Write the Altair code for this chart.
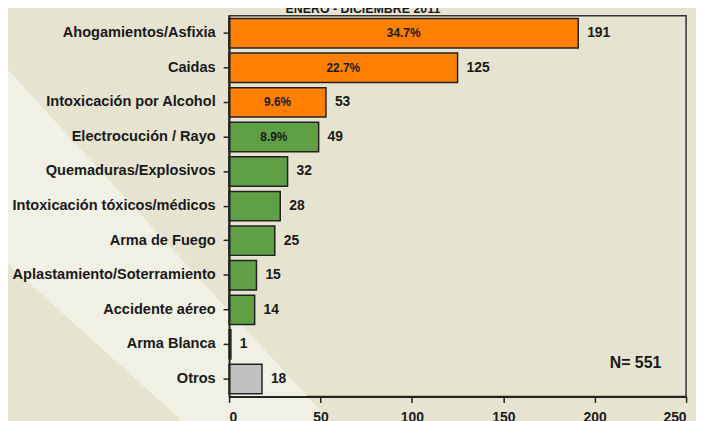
import altair as alt
import pandas as pd

categorias = ["Ahogamientos/Asfixia", "Caidas", "Intoxicación por Alcohol",
              "Electrocución / Rayo", "Quemaduras/Explosivos",
              "Intoxicación tóxicos/médicos", "Arma de Fuego",
              "Aplastamiento/Soterramiento", "Accidente aéreo", "Arma Blanca", "Otros"]
casos = [191, 125, 53, 49, 32, 28, 25, 15, 14, 1, 18]
grupos = ["A", "A", "A", "B", "B", "B", "B", "B", "B", "B", "C"]
porcentajes = ["34.7%", "22.7%", "9.6%", "8.9%", "", "", "", "", "", "", ""]
ticks_x = [0, 50, 100, 150, 200, 250]
titulo = "ENERO - DICIEMBRE 2011"
total_label = "N= 551"

df = pd.DataFrame({"cat": categorias, "casos": casos, "grupo": grupos, "pct": porcentajes})

FONT = "Liberation Sans"
BG = "#E6E4D1"
LIGHT = "#F0F0E5"
DARK = "#222222"
TXT = "#1a1a1a"

y_enc = alt.Y("cat:N", sort=categorias,
              scale=alt.Scale(paddingInner=0.15, paddingOuter=0.08),
              axis=alt.Axis(title=None, labelFontSize=14.7, labelFontWeight="bold",
                            labelColor=TXT, labelPadding=8, tickSize=6,
                            tickWidth=1.5, tickColor=DARK, domainColor=DARK,
                            domainWidth=2, labelLimit=400, zindex=1))
x_enc = alt.X("casos:Q", scale=alt.Scale(domain=[0, 250], nice=False),
              axis=alt.Axis(title=None, values=ticks_x, labelFontSize=14,
                            labelFontWeight="bold", labelColor=TXT,
                            labelPadding=8, tickSize=6, tickWidth=1.5,
                            tickColor=DARK, domainColor=DARK, domainWidth=2,
                            grid=False, zindex=1))

# decorative light diagonal band of the background (two overlapping strokes)
deco_df = pd.DataFrame({"d": [0]})
deco_a = alt.Chart(deco_df).mark_rule(strokeWidth=100, color=LIGHT, strokeCap="butt").encode(
    x=alt.value(-531), y=alt.value(-207), x2=alt.value(269), y2=alt.value(665))
deco_b = alt.Chart(deco_df).mark_rule(strokeWidth=100, color=LIGHT, strokeCap="butt").encode(
    x=alt.value(-531), y=alt.value(-94), x2=alt.value(269), y2=alt.value(626))

base = alt.Chart(df)

bars = base.mark_bar(stroke=DARK, strokeWidth=1.5).encode(
    y=y_enc, x=x_enc,
    color=alt.Color("grupo:N", scale=alt.Scale(domain=["A", "B", "C"],
                    range=["#FF8000", "#60A045", "#C0C0C0"]), legend=None),
)

vals = base.mark_text(align="left", dx=9, fontSize=14, fontWeight="bold",
                      color=TXT, font=FONT).encode(
    y=alt.Y("cat:N", sort=categorias), x="casos:Q", text="casos:Q")

pcts = base.transform_calculate(mid="datum.casos / 2").mark_text(
    align="center", fontSize=12, fontWeight="bold", color=TXT, font=FONT
).encode(y=alt.Y("cat:N", sort=categorias), x="mid:Q", text="pct:N")

ntext = alt.Chart(pd.DataFrame({"t": [total_label]})).mark_text(
    align="center", baseline="middle", fontSize=16, fontWeight="bold",
    color=TXT, font=FONT
).encode(x=alt.value(410), y=alt.value(350), text="t:N")

title_text = alt.Chart(pd.DataFrame({"t": [titulo]})).mark_text(
    align="center", baseline="alphabetic", fontSize=12.5, fontWeight="bold",
    color=TXT, font=FONT
).encode(x=alt.value(135), y=alt.value(-3), text="t:N")

chart = alt.layer(deco_a, deco_b, bars, vals, pcts, ntext, title_text).properties(
    width=461, height=384,
    autosize=alt.AutoSizeParams(type="none"),
    padding={"left": 223, "top": 6, "right": 10, "bottom": 30},
    background=BG,
).configure_view(stroke="#333333", strokeWidth=1.5).configure_axis(
    labelFont=FONT
)

chart.save("out.html", embed_options={"renderer": "svg", "actions": False})
